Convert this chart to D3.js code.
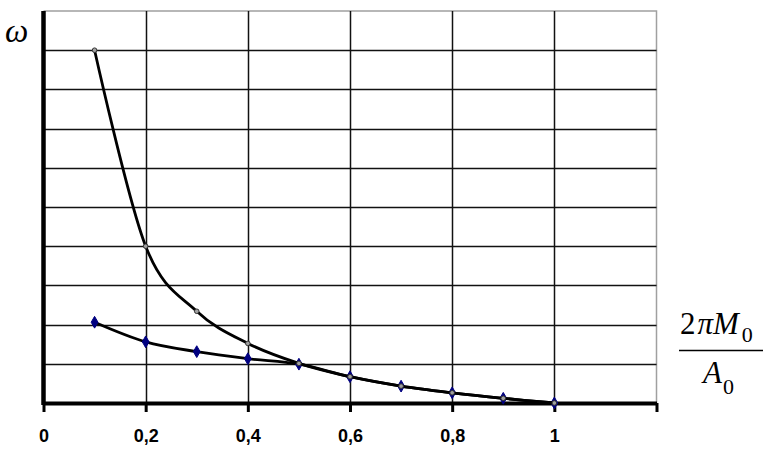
<!DOCTYPE html>
<html>
<head>
<meta charset="utf-8">
<script src="https://cdn.jsdelivr.net/npm/d3@7"></script>
<style>
  body { margin: 0; background: #fff; }
  svg { display: block; }
</style>
</head>
<body>
<script>
// Data
var xValues = [0.1, 0.2, 0.3, 0.4, 0.5, 0.6, 0.7, 0.8, 0.9, 1.0];
var upperSeries = [9, 4, 2.34, 1.52, 1.01, 0.67, 0.43, 0.26, 0.12, 0];
var lowerSeries = [2.06, 1.56, 1.31, 1.13, 0.99, 0.67, 0.43, 0.26, 0.12, 0];
var xTicks = [0, 0.2, 0.4, 0.6, 0.8, 1, 1.2];
var yGrid = [1, 2, 3, 4, 5, 6, 7, 8, 9];

var svg = d3.select("body").append("svg").attr("width", 775).attr("height", 461);

// Scales
var x = d3.scaleLinear().domain([0, 1.2]).range([43.5, 656.5]);
var y = d3.scaleLinear().domain([0, 10]).range([403, 11]);

// Comma as decimal separator
var fmt = d3.formatLocale({decimal: ",", thousands: " ", grouping: [3], currency: ["", ""]}).format("~g");

// Plot frame (top and right, gray)
svg.append("path")
    .attr("d", "M" + x(0) + "," + y(10) + "H" + x(1.2) + "V" + y(0))
    .attr("fill", "none").attr("stroke", "#a0a0a0").attr("stroke-width", 1.5);

// Grid lines
svg.append("g").selectAll("line").data(yGrid).enter().append("line")
    .attr("x1", x(0)).attr("x2", x(1.2))
    .attr("y1", function(d) { return Math.round(y(d)) + 0.5; })
    .attr("y2", function(d) { return Math.round(y(d)) + 0.5; })
    .attr("stroke", "#111").attr("stroke-width", 1.5);
svg.append("g").selectAll("line").data(xTicks.slice(1, 6)).enter().append("line")
    .attr("x1", function(d) { return Math.round(x(d)) + 0.5; })
    .attr("x2", function(d) { return Math.round(x(d)) + 0.5; })
    .attr("y1", y(10)).attr("y2", y(0))
    .attr("stroke", "#111").attr("stroke-width", 1.5);

// X axis
var xAxis = svg.append("g").attr("transform", "translate(0," + y(0) + ")")
    .call(d3.axisBottom(x).tickValues(xTicks).tickSize(9).tickSizeOuter(0).tickPadding(17)
        .tickFormat(function(d) { return d > 1 ? "" : fmt(d); }));
xAxis.select(".domain").attr("stroke", "#000").attr("stroke-width", 4);
xAxis.selectAll(".tick line").attr("stroke", "#000").attr("stroke-width", 3);
xAxis.selectAll(".tick text")
    .attr("fill", "#000")
    .style("font-family", "'Liberation Sans', Arial, sans-serif")
    .style("font-weight", "bold")
    .style("font-size", "18px");

// Y axis (thick line, no labels)
svg.append("line")
    .attr("x1", x(0)).attr("x2", x(0))
    .attr("y1", y(10)).attr("y2", y(0) + 2)
    .attr("stroke", "#000").attr("stroke-width", 4.5);

// Curves
var line = d3.line()
    .x(function(d) { return x(d[0]); })
    .y(function(d) { return y(d[1]); })
    .curve(d3.curveCatmullRom.alpha(0));

var lowerPts = xValues.map(function(v, i) { return [v, lowerSeries[i]]; });
var upperPts = xValues.map(function(v, i) { return [v, upperSeries[i]]; });

svg.append("path").datum(lowerPts).attr("d", line)
    .attr("fill", "none").attr("stroke", "#000").attr("stroke-width", 2.8);
svg.append("g").selectAll("path").data(lowerPts).enter().append("path")
    .attr("d", d3.symbol().type(d3.symbolDiamond).size(40))
    .attr("transform", function(d) { return "translate(" + x(d[0]) + "," + y(d[1]) + ")"; })
    .attr("fill", "#000080").attr("stroke", "#000080").attr("stroke-width", 1);

svg.append("path").datum(upperPts).attr("d", line)
    .attr("fill", "none").attr("stroke", "#000").attr("stroke-width", 2.8);
svg.append("g").selectAll("circle").data(upperPts).enter().append("circle")
    .attr("cx", function(d) { return x(d[0]); })
    .attr("cy", function(d) { return y(d[1]); })
    .attr("r", 2.3)
    .attr("fill", "#a0a0a0").attr("stroke", "#333").attr("stroke-width", 1);

// Y label
svg.append("text").attr("x", 5).attr("y", 42)
    .style("font-family", "'Liberation Serif', 'Times New Roman', serif")
    .style("font-style", "italic").style("font-size", "33px")
    .text("ω");

// X label as fraction 2πM0 / A0
var serif = "'Liberation Serif', 'Times New Roman', serif";
var num = svg.append("text").attr("x", 680).attr("y", 334)
    .style("font-family", serif).style("font-size", "31px");
num.append("tspan").text("2");
num.append("tspan").attr("dx", 2).style("font-style", "italic").text("πM");
num.append("tspan").attr("dx", 3).attr("dy", 8).style("font-size", "22px").text("0");

svg.append("line").attr("x1", 679).attr("x2", 763).attr("y1", 350.5).attr("y2", 350.5)
    .attr("stroke", "#000").attr("stroke-width", 1.5);

var den = svg.append("text").attr("x", 703).attr("y", 383)
    .style("font-family", serif).style("font-size", "31px");
den.append("tspan").style("font-style", "italic").text("A");
den.append("tspan").attr("dx", 1).attr("dy", 11).style("font-size", "22px").text("0");
</script>
</body>
</html>
